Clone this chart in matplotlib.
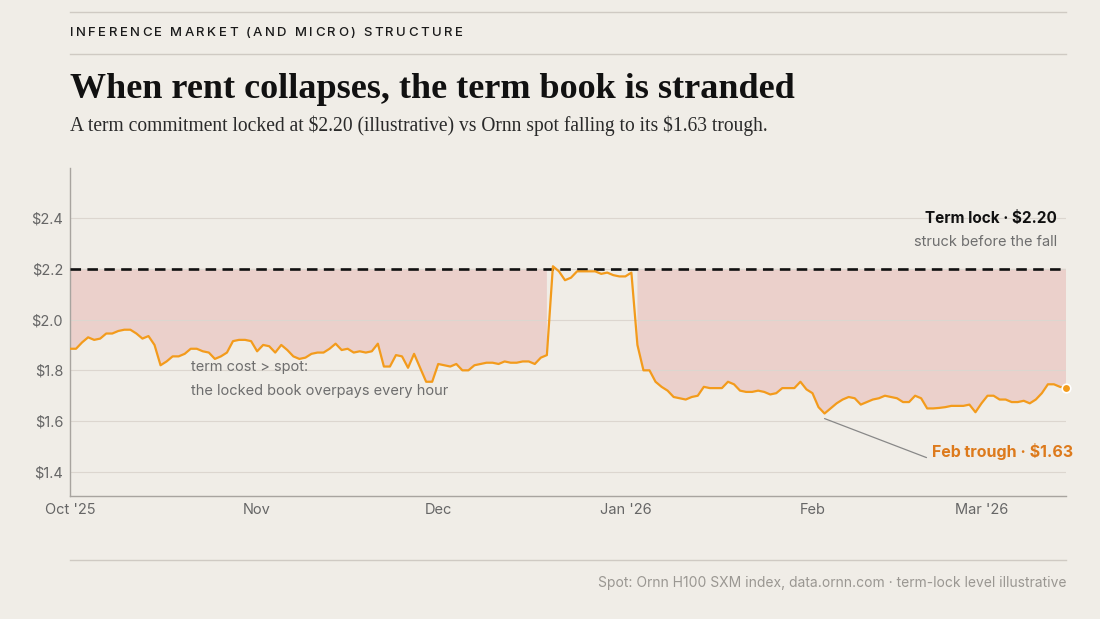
import numpy as np
import matplotlib.pyplot as plt

# daily Ornn H100 SXM spot, Oct 1 2025 .. Mar 15 2026
dates = np.arange('2025-10-01', '2026-03-16', dtype='datetime64[D]')
spot = [
    1.885, 1.885, 1.91, 1.93, 1.92, 1.925, 1.945, 1.945, 1.955, 1.96,
    1.96, 1.945, 1.925, 1.935, 1.90, 1.82, 1.835, 1.855, 1.855, 1.865,
    1.885, 1.885, 1.875, 1.87, 1.845, 1.855, 1.87, 1.915, 1.92, 1.92,
    1.915, 1.875, 1.90, 1.895, 1.87, 1.90, 1.88, 1.855, 1.845, 1.85,
    1.865, 1.87, 1.87, 1.885, 1.905, 1.88, 1.885, 1.87, 1.875, 1.87,
    1.875, 1.905, 1.815, 1.815, 1.86, 1.855, 1.81, 1.865, 1.81, 1.755,
    1.755, 1.825, 1.82, 1.815, 1.825, 1.80, 1.80, 1.82, 1.825, 1.83,
    1.83, 1.825, 1.835, 1.83, 1.83, 1.835, 1.835, 1.825, 1.85, 1.86,
    2.21, 2.19, 2.155, 2.165, 2.19, 2.19, 2.19, 2.19, 2.18, 2.185,
    2.175, 2.17, 2.17, 2.185, 1.90, 1.80, 1.80, 1.755, 1.735, 1.72,
    1.695, 1.69, 1.685, 1.695, 1.70, 1.735, 1.73, 1.73, 1.73, 1.755,
    1.745, 1.72, 1.715, 1.715, 1.72, 1.715, 1.705, 1.71, 1.73, 1.73,
    1.73, 1.755, 1.725, 1.71, 1.655, 1.63, 1.65, 1.67, 1.685, 1.695,
    1.69, 1.665, 1.675, 1.685, 1.69, 1.70, 1.695, 1.69, 1.675, 1.675,
    1.70, 1.69, 1.65, 1.65, 1.652, 1.655, 1.66, 1.66, 1.66, 1.665,
    1.635, 1.67, 1.70, 1.70, 1.685, 1.685, 1.675, 1.675, 1.68, 1.67,
    1.685, 1.71, 1.745, 1.745, 1.735, 1.73,
]
term_lock = 2.20
trough = 1.63
trough_date = np.datetime64('2026-02-03')

yticks = [1.4, 1.6, 1.8, 2.0, 2.2, 2.4]
xtick_dates = ['2025-10-01', '2025-11-01', '2025-12-01', '2026-01-01', '2026-02-01', '2026-03-01']
xtick_labels = ["Oct '25", "Nov", "Dec", "Jan '26", "Feb", "Mar '26"]

BG = '#f0ede7'
ORANGE = '#f39b1c'
PINK = '#ebd0cb'
GREY = '#6e6e6e'
SANS = ['Inter', 'DejaVu Sans']
SERIF = ['Liberation Serif', 'DejaVu Serif']

plt.rcParams['font.family'] = SANS
plt.rcParams['text.parse_math'] = False

spot = np.array(spot)
x = dates.astype(object)
W, H = 1100, 619

fig = plt.figure(figsize=(11, 6.19), dpi=100, facecolor=BG)
ax = fig.add_axes([70 / W, 1 - 496 / H, 996 / W, 328 / H])
ax.set_facecolor(BG)

ax.fill_between(x, spot, term_lock, where=spot < 2.1, color=PINK, lw=0, zorder=1)
ax.axhline(term_lock, color='#111111', lw=1.9, dashes=(4, 2.4), zorder=3)
ax.plot(x, spot, color=ORANGE, lw=1.6, zorder=4, solid_joinstyle='round')
ax.scatter([x[-1]], [spot[-1]], s=38, color=ORANGE, edgecolor='white', lw=1.2, zorder=5, clip_on=False)

ax.set_ylim(1.305, 2.597)
ax.set_xlim(x[0], x[-1])
ax.set_yticks(yticks)
ax.set_yticklabels([f'${v:.1f}' for v in yticks])
ax.set_xticks([np.datetime64(d).astype(object) for d in xtick_dates])
ax.set_xticklabels(xtick_labels)
ax.tick_params(length=0, labelsize=10.5, labelcolor='#666666')
ax.tick_params(axis='x', pad=5)
ax.tick_params(axis='y', pad=5)
ax.grid(axis='y', color='#dcd6cf', lw=0.8, zorder=0)
for s in ['top', 'right']:
    ax.spines[s].set_visible(False)
for s in ['left', 'bottom']:
    ax.spines[s].set_color('#a8a49f')
    ax.spines[s].set_linewidth(1.0)

# annotations
ax.text(np.datetime64('2025-10-21').astype(object), 1.815, 'term cost > spot:', fontsize=10.5,
        color=GREY, va='center')
ax.text(np.datetime64('2025-10-21').astype(object), 1.72, 'the locked book overpays every hour',
        fontsize=10.5, color=GREY, va='center')
ax.text(1057 / W, 1 - 219 / H, 'Term lock · $2.20', transform=fig.transFigure, ha='right',
        va='center', fontsize=11, fontweight='bold', color='#111111')
ax.text(1057 / W, 1 - 242 / H, 'struck before the fall', transform=fig.transFigure, ha='right',
        va='center', fontsize=10.5, color=GREY)
ax.annotate('Feb trough · $1.63', xy=(trough_date.astype(object), trough - 0.02),
            xytext=(1073 / W, 1 - 452 / H), textcoords='figure fraction',
            ha='right', va='center', fontsize=11.5, fontweight='bold', color='#dd7a1c',
            arrowprops=dict(arrowstyle='-', color='#888888', lw=0.9,
                            shrinkA=2, shrinkB=0, relpos=(0.0, 0.05)))

# header and footer
for yy in [12, 54, 560]:
    fig.add_artist(plt.Line2D([70 / W, 1066 / W], [1 - yy / H] * 2, color='#cfcac3', lw=1))

# kicker with letter spacing, drawn char by char
renderer = fig.canvas.get_renderer()
kicker = 'INFERENCE MARKET (AND MICRO) STRUCTURE'
kx = 70.0
for ch in kicker:
    t = fig.text(kx / W, 1 - 32 / H, ch, fontsize=9.5, fontweight='medium', color='#1a1a1a',
                 va='center_baseline')
    cw = t.get_window_extent(renderer).width if ch.strip() else 3.0
    kx += cw + 2.45

fig.text(70 / W, 1 - 89 / H, 'When rent collapses, the term book is stranded', fontsize=26,
         fontweight='bold', family=SERIF, color='#111111', va='center')
fig.text(70 / W, 1 - 126 / H,
         'A term commitment locked at $2.20 (illustrative) vs Ornn spot falling to its $1.63 trough.',
         fontsize=14.05, family=SERIF, color='#2a2a2a', va='center')
fig.text(1066 / W, 1 - 583 / H,
         'Spot: Ornn H100 SXM index, data.ornn.com · term-lock level illustrative',
         fontsize=10, color='#9a9792', ha='right', va='center')

fig.savefig('out.png', dpi=100, facecolor=BG)
